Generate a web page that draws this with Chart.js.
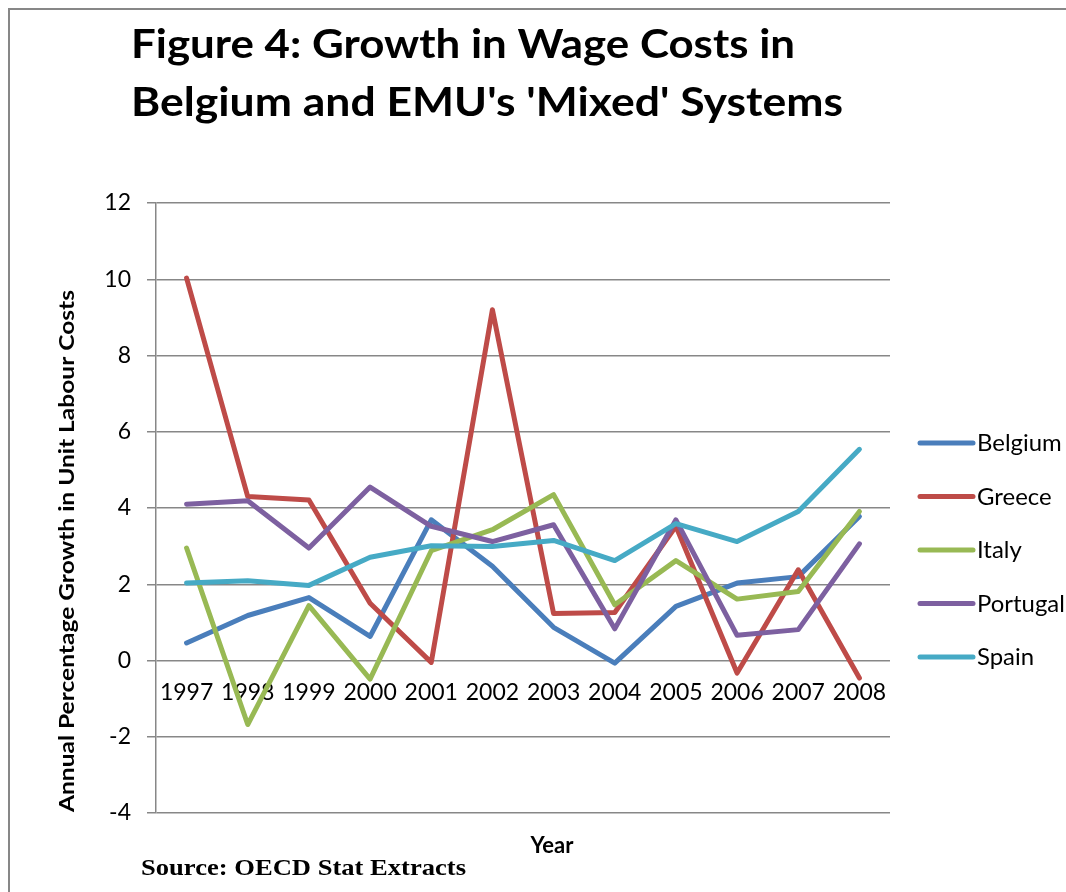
<!DOCTYPE html>
<html>
<head>
<meta charset="utf-8">
<title>Growth in Wage Costs</title>
<script src="https://cdn.jsdelivr.net/npm/chart.js@4/dist/chart.umd.min.js"></script>
<style>
  html, body { margin: 0; padding: 0; background: #fff; }
  canvas { display: block; }
</style>
</head>
<body>
<canvas id="wageChart" width="1066" height="892"></canvas>
<script>
const years = ["1997", "1998", "1999", "2000", "2001", "2002", "2003", "2004", "2005", "2006", "2007", "2008"];
const belgium = [0.46, 1.18, 1.65, 0.63, 3.69, 2.47, 0.87, -0.07, 1.42, 2.03, 2.2, 3.78];
const greece = [10.03, 4.3, 4.21, 1.5, -0.05, 9.2, 1.23, 1.26, 3.52, -0.33, 2.38, -0.46];
const italy = [2.95, -1.68, 1.44, -0.49, 2.88, 3.43, 4.35, 1.46, 2.62, 1.61, 1.81, 3.91];
const portugal = [4.1, 4.19, 2.95, 4.55, 3.52, 3.12, 3.56, 0.83, 3.69, 0.66, 0.81, 3.06];
const spain = [2.03, 2.09, 1.97, 2.71, 3.01, 2.99, 3.15, 2.62, 3.59, 3.12, 3.91, 5.54];

const countries = ["Belgium", "Greece", "Italy", "Portugal", "Spain"];
const colors = ["#4a7ebb", "#be4b48", "#98b954", "#7d60a0", "#46aac5"];
const yTicks = { min: -4, max: 12, step: 2 };

const GRID = "#878787";
const FONT = "Lato, 'DejaVu Sans', sans-serif";

// draw text squeezed (or stretched) to a given width
function fitText(ctx, text, x, y, width) {
  const w = ctx.measureText(text).width;
  ctx.save();
  ctx.translate(x, y);
  ctx.scale(width / w, 1);
  ctx.fillText(text, 0, 0);
  ctx.restore();
}

const decorations = {
  id: "decorations",
  afterDraw(chart) {
    const ctx = chart.ctx;
    ctx.save();

    // frame (top and left edges only)
    ctx.strokeStyle = GRID;
    ctx.lineWidth = 2;
    ctx.beginPath();
    ctx.moveTo(1066, 9);
    ctx.lineTo(9, 9);
    ctx.lineTo(9, 892);
    ctx.stroke();

    ctx.fillStyle = "#000";
    ctx.textBaseline = "alphabetic";
    ctx.textAlign = "left";

    // title
    ctx.font = "bold 41px " + FONT;
    fitText(ctx, "Figure 4: Growth in Wage Costs in", 131, 58, 664);
    fitText(ctx, "Belgium and EMU's 'Mixed' Systems", 131, 116, 712);

    // axis titles
    ctx.font = "bold 21px " + FONT;
    ctx.save();
    ctx.translate(74, 812);
    ctx.rotate(-Math.PI / 2);
    fitText(ctx, "Annual Percentage Growth in Unit Labour Costs", 0, 0, 522);
    ctx.restore();

    ctx.font = "bold 22px " + FONT;
    ctx.textAlign = "center";
    ctx.fillText("Year", 552, 853);

    // source note
    ctx.textAlign = "left";
    ctx.font = "bold 23px 'Liberation Serif', serif";
    fitText(ctx, "Source: OECD Stat Extracts", 141, 875, 325);

    // legend
    ctx.font = "23px " + FONT;
    ctx.textBaseline = "middle";
    chart.data.datasets.forEach((ds, i) => {
      const y = 443 + i * 53.5;
      ctx.strokeStyle = ds.borderColor;
      ctx.lineWidth = 5;
      ctx.lineCap = "round";
      ctx.beginPath();
      ctx.moveTo(920, y);
      ctx.lineTo(973, y);
      ctx.stroke();
      fitText(ctx, ds.label, 977, y + 1, ctx.measureText(ds.label).width * 1.04);
    });

    ctx.restore();
  },
};

const series = [belgium, greece, italy, portugal, spain];

new Chart(document.getElementById("wageChart"), {
  type: "line",
  data: {
    labels: years,
    datasets: countries.map((name, i) => ({
      label: name,
      data: series[i],
      borderColor: colors[i],
      backgroundColor: colors[i],
      borderWidth: 5,
      borderJoinStyle: "round",
      borderCapStyle: "round",
      pointRadius: 0,
      tension: 0,
      fill: false,
      order: countries.length - i,
    })),
  },
  options: {
    responsive: false,
    animation: false,
    devicePixelRatio: 1,
    layout: { padding: { left: 0, right: 176, top: 203, bottom: 79 } },
    plugins: {
      legend: { display: false },
      tooltip: { enabled: false },
    },
    scales: {
      x: {
        type: "category",
        offset: true,
        position: { y: 0 },
        grid: { display: false, drawTicks: false },
        border: { display: false },
        ticks: {
          color: "#000",
          font: { family: FONT, size: 23 },
          padding: 18,
          maxRotation: 0,
          autoSkip: false,
        },
        afterFit(scale) {
          scale.height = 0;
        },
      },
      y: {
        min: yTicks.min,
        max: yTicks.max,
        grid: { color: GRID, lineWidth: 1.5, tickLength: 9 },
        border: { color: GRID, width: 1.5 },
        ticks: {
          stepSize: yTicks.step,
          color: "#000",
          font: { family: FONT, size: 23 },
          padding: 16,
        },
        afterFit(scale) {
          scale.width = 156;
        },
      },
    },
  },
  plugins: [decorations],
});
</script>
</body>
</html>
